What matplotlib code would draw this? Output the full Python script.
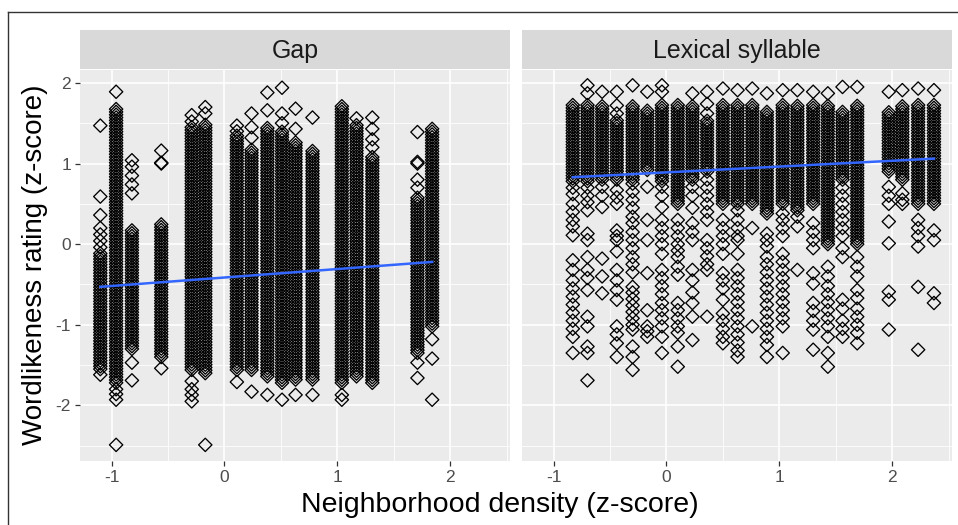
import numpy as np
import matplotlib
matplotlib.use("Agg")
import matplotlib.pyplot as plt
from matplotlib.lines import Line2D

plt.rcParams['font.family'] = ['Liberation Sans', 'DejaVu Sans']
plt.rcParams['axes.unicode_minus'] = False

# ---------------- data ----------------
panel_titles = ["Gap", "Lexical syllable"]
x_ticks = [-1, 0, 1, 2]
y_ticks = [-2, -1, 0, 1, 2]
rating_step = 0.035  # spacing of ratings inside a densely filled run

# Gap panel: neighborhood density of each item column
gap_x = [-1.10, -0.96, -0.82, -0.56, -0.29, -0.17, 0.11, 0.24, 0.38, 0.51,
         0.63, 0.78, 1.04, 1.17, 1.31, 1.71, 1.84]
# densely filled rating run per column (low, high)
gap_dense = [(-1.55, -0.10), (-1.72, 1.70), (-1.30, 0.20), (-1.40, 0.25),
             (-1.56, 1.45), (-1.60, 1.50), (-1.56, 1.35), (-1.56, 1.20),
             (-1.64, 1.45), (-1.72, 1.40), (-1.68, 1.29), (-1.68, 1.16),
             (-1.72, 1.72), (-1.64, 1.50), (-1.72, 1.10), (-1.35, 0.59),
             (-1.02, 1.45)]
# isolated ratings per column
gap_single = [
    [1.47, 0.59, 0.36, 0.20, 0.12, 0.04, -0.04, -1.62],
    [1.89, -1.80, -1.86, -1.93, -2.49],
    [1.04, 0.96, 0.85, 0.74, 0.63, -1.47, -1.69],
    [1.16, 1.00, 1.01, -1.54],
    [1.60, 1.52, -1.70, -1.80, -1.87, -1.95],
    [1.70, 1.62, -2.49],
    [1.47, 1.40, -1.71],
    [1.62, 1.45, 1.32, -1.83],
    [1.88, 1.66, -1.87],
    [1.94, 1.62, 1.50, -1.93],
    [1.68, 1.43, -1.87],
    [1.57, -1.87],
    [-1.87, -1.93],
    [1.56],
    [1.57, 1.43, 1.30, 1.20],
    [1.39, 1.02, 1.00, 0.80, 0.70, -1.47, -1.66],
    [-1.18, -1.42, -1.93],
]

# Lexical syllable panel
lex_x = [-0.83, -0.70, -0.57, -0.44, -0.30, -0.17, -0.04, 0.10, 0.23, 0.36,
         0.50, 0.63, 0.76, 0.89, 1.03, 1.16, 1.30, 1.43, 1.56, 1.69,
         1.97, 2.09, 2.23, 2.37]
lex_dense = [(0.78, 1.74), (0.78, 1.74), (0.80, 1.72), (0.80, 1.55),
             (0.80, 1.74), (0.92, 1.66), (0.78, 1.74), (0.50, 1.74),
             (0.80, 1.74), (0.90, 1.55), (0.50, 1.74), (0.50, 1.74),
             (0.50, 1.74), (0.38, 1.66), (0.50, 1.74), (0.42, 1.74),
             (0.50, 1.74), (0.00, 1.74), (0.80, 1.66), (0.00, 1.74),
             (0.90, 1.66), (0.80, 1.74), (0.50, 1.74), (0.50, 1.74)]
lex_single = [
    [0.70, 0.62, 0.50, 0.40, 0.30, 0.22, 0.11, -0.20, -0.32, -0.45, -0.55,
     -0.65, -0.75, -0.85, -0.95, -1.05, -1.15, -1.35],
    [1.97, 1.87, 0.70, 0.60, 0.52, 0.42, 0.13, 0.05, -0.16, -0.32, -0.42,
     -0.57, -0.90, -1.02, -1.27, -1.35, -1.69],
    [1.89, 0.71, 0.60, 0.46, -0.18, -0.40, -0.61],
    [1.89, 1.72, 1.62, 0.67, 0.58, 0.50, 0.17, 0.10, 0.05, -0.09, -0.32,
     -0.45, -0.57, -0.69, -1.02, -1.12, -1.23, -1.40],
    [1.97, 0.75, 0.65, 0.55, 0.45, 0.34, 0.26, 0.15, 0.05, -0.05, -0.16,
     -0.25, -0.35, -0.53, -0.60, -0.68, -0.76, -0.84, -0.92, -1.00, -1.06,
     -1.27, -1.40, -1.56],
    [1.89, 0.71, 0.30, 0.05, -0.36, -0.82, -1.02, -1.08, -1.15],
    [1.97, 1.89, 0.71, 0.60, 0.46, 0.30, 0.20, 0.10, 0.00, -0.12, -0.32,
     -0.42, -0.52, -0.62, -0.73, -0.82, -0.92, -1.02, -1.15, -1.35],
    [0.30, 0.20, 0.10, 0.00, -0.08, -0.16, -0.28, -0.38, -0.73, -0.82,
     -0.92, -1.02, -1.10, -1.27, -1.52],
    [1.87, 0.71, 0.60, 0.45, 0.26, 0.15, 0.05, -0.32, -0.45, -0.60, -0.73,
     -0.90, -1.19],
    [1.89, 1.74, 1.62, 0.80, 0.70, 0.60, 0.50, 0.40, 0.30, 0.05, -0.05,
     -0.15, -0.25, -0.32, -0.90],
    [1.93, 0.30, 0.20, 0.10, 0.00, -0.12, -0.36, -0.45, -0.55, -0.69,
     -0.86, -0.95, -1.05, -1.15, -1.23],
    [1.91, 0.42, 0.30, 0.20, 0.10, 0.05, -0.12, -0.32, -0.42, -0.52, -0.62,
     -0.72, -0.82, -0.92, -1.02, -1.12, -1.22, -1.32, -1.40],
    [1.93, 0.20, -1.02],
    [1.87, 0.13, 0.05, -0.03, -0.16, -0.25, -0.35, -0.45, -0.55, -0.65,
     -0.75, -0.85, -0.95, -1.05, -1.15, -1.25, -1.40],
    [1.91, 0.38, 0.30, 0.20, 0.10, -0.12, -0.22, -0.32, -0.42, -0.52, -0.62,
     -0.72, -0.82, -0.92, -1.02, -1.35],
    [1.91, 0.34, 0.22, -0.32],
    [1.89, 0.26, 0.15, 0.05, -0.05, -0.36, -0.49, -0.73, -0.83, -0.95,
     -1.06, -1.31],
    [1.87, -0.28, -0.40, -0.52, -0.62, -0.72, -0.82, -0.92, -1.02, -1.15,
     -1.35, -1.52],
    [1.95, 0.70, 0.60, 0.50, 0.40, 0.30, 0.20, 0.10, -0.05, -0.16, -0.69,
     -0.80, -0.95, -1.05, -1.15],
    [1.95, -0.16, -0.28, -0.40, -0.57, -0.67, -0.80, -0.90, -1.00, -1.10,
     -1.23],
    [1.89, 0.71, 0.60, 0.50, 0.28, 0.01, -0.59, -0.69, -1.06],
    [1.91, 0.63, 0.55, 0.50],
    [1.93, 0.30, 0.20, 0.10, -0.03, -0.53, -1.31],
    [1.91, 0.17, 0.05, -0.61, -0.73],
]

# linear fits (intercept, slope)
gap_fit = (-0.414, 0.105)
lex_fit = (0.890, 0.072)

# ---------------- figure ----------------
W, H = 958, 525
fig = plt.figure(figsize=(W / 100, H / 100), dpi=100)
fig.patch.set_facecolor("white")

def fx(px):
    return px / W

def fy(py):
    return 1 - py / H

panel_left = [80, 522]
panel_w = 430
p_top, p_bot = 70, 461
s_top = 30

xlim = (-1.28, 2.53)
ylim = (-2.69, 2.16)

panels = [
    (gap_x, gap_dense, gap_single, gap_fit),
    (lex_x, lex_dense, lex_single, lex_fit),
]

for i, (xs, dense, single, fit) in enumerate(panels):
    ax = fig.add_axes([fx(panel_left[i]), fy(p_bot), fx(panel_w),
                       (p_bot - p_top) / H])
    ax.set_facecolor("#EBEBEB")
    for sp in ax.spines.values():
        sp.set_visible(False)
    ax.set_xlim(*xlim)
    ax.set_ylim(*ylim)
    ax.set_xticks(x_ticks)
    ax.set_yticks(y_ticks)
    ax.set_xticks([-0.5, 0.5, 1.5, 2.5], minor=True)
    ax.set_yticks([-2.5, -1.5, -0.5, 0.5, 1.5], minor=True)
    ax.grid(True, which="major", color="white", linewidth=1.2)
    ax.grid(True, which="minor", color="white", linewidth=0.6)
    ax.set_axisbelow(True)
    ax.tick_params(which="minor", length=0)
    ax.tick_params(which="major", length=3.5, width=0.9, color="#333333",
                   labelcolor="#4D4D4D", labelsize=12.5, pad=3)
    if i == 1:
        ax.tick_params(axis="y", labelleft=False, length=0)

    px, py = [], []
    for x, (lo, hi), pts in zip(xs, dense, single):
        run = np.arange(lo, hi + 1e-9, rating_step)
        px.extend([x] * len(run))
        py.extend(run)
        px.extend([x] * len(pts))
        py.extend(pts)
    ax.scatter(px, py, marker="D", s=46, facecolors="none",
               edgecolors="black", linewidths=0.95, zorder=2)

    xr = np.array([min(xs), max(xs)])
    ax.plot(xr, fit[0] + fit[1] * xr, color="#3366FF", linewidth=1.8,
            zorder=3)

    # strip
    sax = fig.add_axes([fx(panel_left[i]), fy(p_top - 1), fx(panel_w),
                        (p_top - 1 - s_top) / H])
    sax.set_facecolor("#D9D9D9")
    sax.set_xticks([])
    sax.set_yticks([])
    for sp in sax.spines.values():
        sp.set_visible(False)
    sax.text(0.5, 0.45, panel_titles[i], ha="center", va="center",
             fontsize=18, color="#1A1A1A", transform=sax.transAxes)

fig.text(fx(500), fy(505), "Neighborhood density (z-score)", ha="center",
         va="center", fontsize=20.5, color="black")
fig.text(fx(35), fy(265), "Wordlikeness rating (z-score)", ha="center",
         va="center", rotation=90, fontsize=20, color="black")

# outer frame lines (left and top)
fig.add_artist(Line2D([fx(8), fx(8)], [fy(12), 0], color="#333333",
                      linewidth=1.0, transform=fig.transFigure))
fig.add_artist(Line2D([fx(8), 1], [fy(12), fy(12)], color="#333333",
                      linewidth=1.0, transform=fig.transFigure))

fig.savefig("out.png", dpi=100)
